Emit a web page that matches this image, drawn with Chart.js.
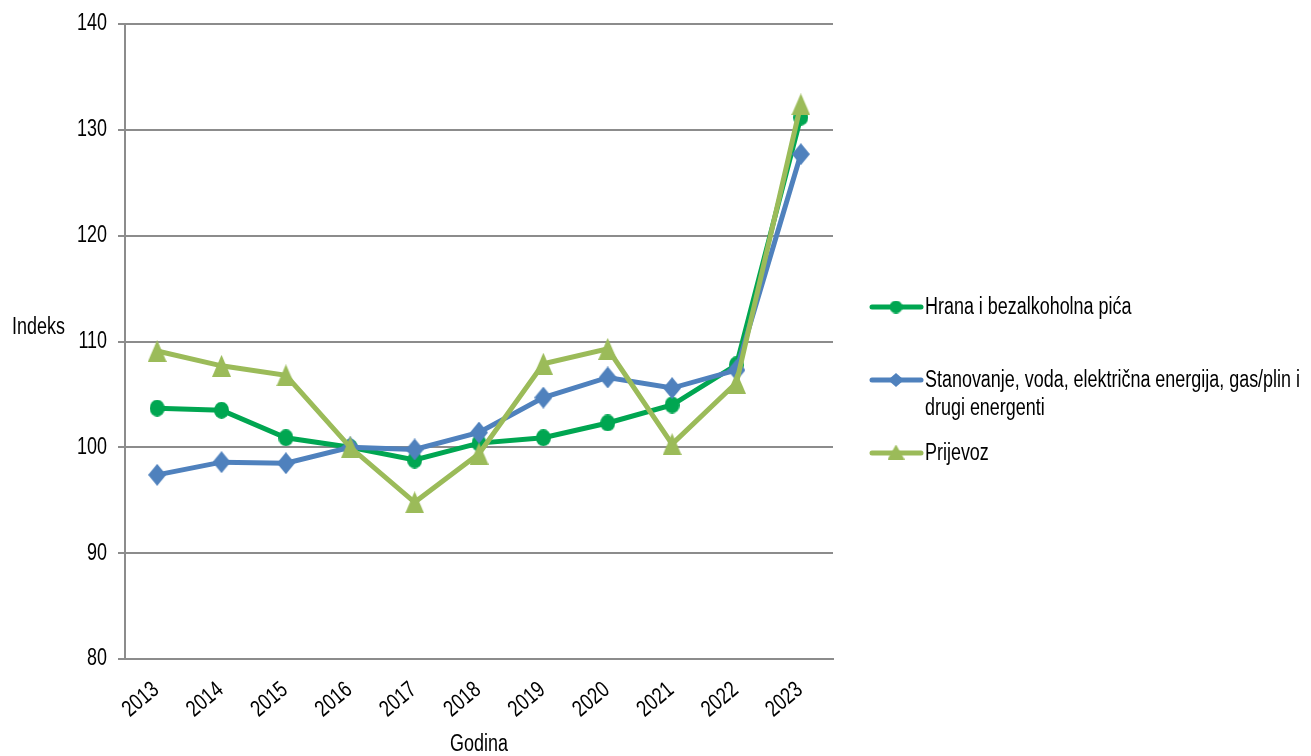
<!DOCTYPE html>
<html>
<head>
<meta charset="utf-8">
<script src="https://cdn.jsdelivr.net/npm/chart.js@4.4.0/dist/chart.umd.min.js"></script>
<style>
  html, body { margin: 0; padding: 0; background: #fff; }
  #wrap { width: 1311px; height: 756px; }
</style>
</head>
<body>
<div id="wrap"><canvas id="chart" width="1311" height="756"></canvas></div>
<script>
var years = ["2013", "2014", "2015", "2016", "2017", "2018", "2019", "2020", "2021", "2022", "2023"];
var hrana = [103.7, 103.5, 100.9, 100.0, 98.8, 100.4, 100.9, 102.3, 104.0, 107.8, 131.2];
var stanovanje = [97.4, 98.6, 98.5, 100.0, 99.8, 101.4, 104.7, 106.6, 105.6, 107.3, 127.7];
var prijevoz = [109.1, 107.7, 106.8, 100.0, 94.8, 99.4, 107.9, 109.3, 100.3, 106.1, 132.4];
var yTicks = [80, 90, 100, 110, 120, 130, 140];
var seriesNames = [["Hrana i bezalkoholna pića"],
                   ["Stanovanje, voda, električna energija, gas/plin i", "drugi energenti"],
                   ["Prijevoz"]];
var colors = ["#00A651", "#4F81BD", "#9BBB59"];

var font = "23px 'Liberation Sans', Arial, sans-serif";

// the original uses a condensed face, so squeeze Liberation Sans a bit
function narrowText(ctx, text, x, y, align, angle) {
  ctx.save();
  ctx.translate(x, y);
  ctx.rotate(angle || 0);
  ctx.scale(0.78, 1);
  ctx.textAlign = align;
  ctx.fillText(text, 0, 0);
  ctx.restore();
}

// markers are a bit taller than wide in the original
function marker(shape, w, h, color) {
  var c = document.createElement("canvas");
  c.width = w; c.height = h;
  var g = c.getContext("2d");
  g.fillStyle = color;
  g.beginPath();
  if (shape === "circle") {
    g.ellipse(w / 2, h / 2, w / 2, h / 2, 0, 0, Math.PI * 2);
  } else if (shape === "diamond") {
    g.moveTo(w / 2, 0); g.lineTo(w, h / 2); g.lineTo(w / 2, h); g.lineTo(0, h / 2);
  } else {
    g.moveTo(w / 2, 0); g.lineTo(w, h); g.lineTo(0, h);
  }
  g.closePath();
  g.fill();
  return c;
}

var extras = {
  id: "extras",
  afterDraw: function(chart) {
    var ctx = chart.ctx;
    var xs = chart.scales.x, ys = chart.scales.y;
    ctx.save();
    ctx.font = font;
    ctx.fillStyle = "#000";
    ctx.textBaseline = "middle";

    yTicks.forEach(function(v) {
      narrowText(ctx, String(v), 107, ys.getPixelForValue(v), "right");
    });
    years.forEach(function(yr, i) {
      narrowText(ctx, yr, xs.getPixelForValue(i) - 1, 687, "right", -40 * Math.PI / 180);
    });
    narrowText(ctx, "Indeks", 12, 328, "left");
    narrowText(ctx, "Godina", (chart.chartArea.left + chart.chartArea.right) / 2, 745, "center");

    // legend
    var rows = [307, 380, 453];
    var legendMarks = [marker("circle", 13, 13, colors[0]),
                       marker("diamond", 16, 14, colors[1]),
                       marker("triangle", 17, 15, colors[2])];
    chart.data.datasets.forEach(function(ds, i) {
      var y = rows[i];
      ctx.strokeStyle = ds.borderColor;
      ctx.lineWidth = 5;
      ctx.lineCap = "round";
      ctx.beginPath();
      ctx.moveTo(872, y);
      ctx.lineTo(921, y);
      ctx.stroke();
      var m = legendMarks[i];
      ctx.drawImage(m, 896 - m.width / 2, y - m.height / 2 + (i === 2 ? -1 : 0));
      ctx.fillStyle = "#000";
      seriesNames[i].forEach(function(line, j) {
        narrowText(ctx, line, 925, y + 1 + j * 28, "left");
      });
    });
    ctx.restore();
  }
};

new Chart(document.getElementById("chart"), {
  type: "line",
  data: {
    labels: years,
    datasets: [
      { label: seriesNames[0].join(" "), data: hrana, borderColor: colors[0], backgroundColor: colors[0],
        pointStyle: marker("circle", 15, 17, colors[0]), borderWidth: 5, order: 3 },
      { label: seriesNames[1].join(" "), data: stanovanje, borderColor: colors[1], backgroundColor: colors[1],
        pointStyle: marker("diamond", 18, 22, colors[1]), borderWidth: 5, order: 2 },
      { label: seriesNames[2].join(" "), data: prijevoz, borderColor: colors[2], backgroundColor: colors[2],
        pointStyle: marker("triangle", 19, 22, colors[2]), borderWidth: 5, order: 1 }
    ]
  },
  options: {
    responsive: false,
    animation: false,
    layout: { padding: { left: 0, right: 478, top: 24, bottom: 0 } },
    plugins: { legend: { display: false }, tooltip: { enabled: false } },
    elements: { line: { tension: 0 }, point: { radius: 8 } },
    scales: {
      x: {
        offset: true,
        grid: { display: false, drawTicks: false },
        border: { display: true, color: "#8c8c8c", width: 2 },
        ticks: { display: false },
        afterFit: function(scale) { scale.height = 97; }
      },
      y: {
        min: 80, max: 140,
        ticks: { stepSize: 10, display: false },
        grid: { color: "#8c8c8c", lineWidth: 2, tickLength: 7 },
        border: { display: true, color: "#8c8c8c", width: 2 },
        afterFit: function(scale) { scale.width = 125; }
      }
    }
  },
  plugins: [extras]
});
</script>
</body>
</html>
